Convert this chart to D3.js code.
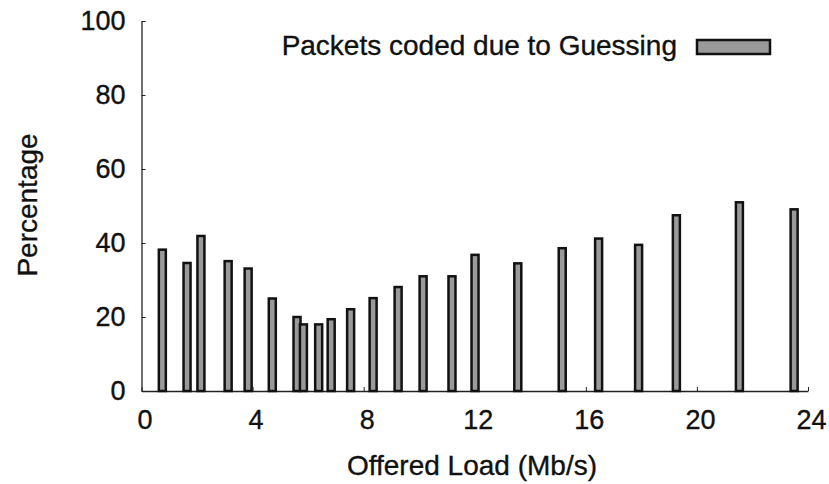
<!DOCTYPE html>
<html>
<head>
<meta charset="utf-8">
<script src="https://cdn.jsdelivr.net/npm/d3@7"></script>
<style>
    body { margin: 0; background: #fff; }
    svg text { font-family: "Liberation Sans", Arial, sans-serif; fill: #111; stroke: #111; stroke-width: 0.35; }
</style>
</head>
<body>
<div id="chart"></div>
<script>
// offered load (Mb/s) and percentage of packets coded due to guessing
const loads = [0.75, 1.64, 2.14, 3.12, 3.84, 4.71, 5.6, 5.83, 6.38, 6.83, 7.53,
    8.34, 9.24, 10.14, 11.18, 12.01, 13.55, 15.15, 16.46, 17.9, 19.26, 21.53, 23.5];
const guessing = [38.2, 34.6, 41.9, 35.1, 33.1, 25.0, 20.0, 18.0, 18.0, 19.4, 22.1,
    25.1, 28.1, 31.0, 31.0, 36.8, 34.5, 38.6, 41.2, 39.5, 47.5, 51.0, 49.1];
const xTicks = [0, 4, 8, 12, 16, 20, 24];
const yTicks = [0, 20, 40, 60, 80, 100];
const seriesName = "Packets coded due to Guessing";

const W = 829, H = 484;
const margin = {top: 21, right: 21, bottom: 93, left: 141.5};

const svg = d3.select("#chart").append("svg")
    .attr("width", W)
    .attr("height", H);

const x = d3.scaleLinear().domain([0, 24]).range([margin.left, W - margin.right]);
const y = d3.scaleLinear().domain([0, 100]).range([H - margin.bottom, margin.top]);

// axes
const xAxis = svg.append("g")
    .attr("transform", `translate(0, ${y(0)})`)
    .call(d3.axisBottom(x).tickValues(xTicks).tickSize(-4).tickPadding(19).tickSizeOuter(0));
xAxis.select(".domain").attr("stroke", "#222").attr("stroke-width", 1.3);
xAxis.selectAll(".tick line").attr("stroke", "#222");
xAxis.selectAll("text").attr("font-size", 27).attr("dy", "0.71em").attr("dx", 3).attr("fill", "#111");

const yAxis = svg.append("g")
    .attr("transform", `translate(${x(0)}, 0)`)
    .call(d3.axisLeft(y).tickValues(yTicks).tickSize(-4).tickPadding(16).tickSizeOuter(0));
yAxis.select(".domain").attr("stroke", "#222").attr("stroke-width", 1.3);
yAxis.selectAll(".tick line").attr("stroke", "#222");
yAxis.selectAll("text").attr("font-size", 27).attr("fill", "#111");

// bars
const barW = 7;
svg.append("g").selectAll("rect")
    .data(loads.map((d, i) => ({load: d, value: guessing[i]})))
    .enter().append("rect")
    .attr("x", d => x(d.load) - barW / 2)
    .attr("y", d => y(d.value))
    .attr("width", barW)
    .attr("height", d => y(0) - y(d.value))
    .attr("fill", "#9a9a9a")
    .attr("stroke", "#111")
    .attr("stroke-width", 2.5);

// axis titles
svg.append("text")
    .attr("x", 472)
    .attr("y", 475)
    .attr("text-anchor", "middle")
    .attr("font-size", 28)
    .text("Offered Load (Mb/s)");

svg.append("text")
    .attr("transform", "translate(37, 205) rotate(-90)")
    .attr("text-anchor", "middle")
    .attr("font-size", 28)
    .text("Percentage");

// legend
const legend = svg.append("g");
legend.append("text")
    .attr("x", 677)
    .attr("y", 55)
    .attr("text-anchor", "end")
    .attr("font-size", 28)
    .text(seriesName);
legend.append("rect")
    .attr("x", 697)
    .attr("y", 40)
    .attr("width", 73)
    .attr("height", 14)
    .attr("fill", "#9a9a9a")
    .attr("stroke", "#111")
    .attr("stroke-width", 2.5);
</script>
</body>
</html>
